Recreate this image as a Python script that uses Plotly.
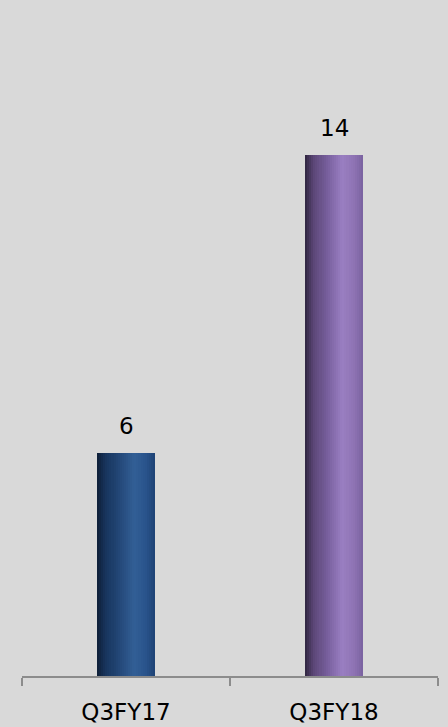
import plotly.graph_objects as go

categories = ["Q3FY17", "Q3FY18"]
values = [6, 14]
labels = ["6", "14"]

# gradient stops (position across bar width, colour) for each bar
blue_stops = [(0.0, (14, 30, 54)), (0.15, (23, 52, 92)), (0.4, (36, 73, 122)),
              (0.65, (50, 95, 150)), (0.85, (40, 82, 138)), (1.0, (30, 66, 116))]
purple_stops = [(0.0, (47, 37, 64)), (0.15, (91, 70, 118)), (0.4, (122, 97, 160)),
                (0.65, (154, 127, 194)), (0.85, (141, 114, 178)), (1.0, (122, 98, 160))]

FONT = "DejaVu Sans, sans-serif"


def interp(stops, t):
    for (p0, c0), (p1, c1) in zip(stops[:-1], stops[1:]):
        if p0 <= t <= p1:
            f = (t - p0) / (p1 - p0) if p1 > p0 else 0
            c = [round(a + (b - a) * f) for a, b in zip(c0, c1)]
            return "rgb(%d,%d,%d)" % tuple(c)
    return "rgb(%d,%d,%d)" % stops[-1][1]


bar_width = 0.28
n_strips = 28
strip = bar_width / n_strips

fig = go.Figure()
for i in range(n_strips):
    t = (i + 0.5) / n_strips
    fig.add_trace(go.Bar(
        x=categories, y=values,
        width=strip * 1.08, offset=-bar_width / 2 + i * strip,
        marker=dict(color=[interp(blue_stops, t), interp(purple_stops, t)], line=dict(width=0)),
        hoverinfo="skip", showlegend=False,
    ))

for c, v, lab in zip(categories, values, labels):
    fig.add_annotation(x=c, y=v, text=lab, showarrow=False, yshift=27, yanchor="middle",
                       font=dict(size=23, color="#000000", family=FONT))

fig.update_layout(
    width=448, height=727,
    margin=dict(l=22, r=10, t=81, b=51),
    paper_bgcolor="#d9d9d9", plot_bgcolor="#d9d9d9",
    barmode="overlay", bargap=0,
    font=dict(family=FONT, color="#000000"),
)
fig.update_xaxes(
    type="category", range=[-0.5, 1.5], tickson="boundaries", automargin=False,
    showline=True, linecolor="#8c8c8c", linewidth=2,
    ticks="outside", ticklen=8, tickwidth=2, tickcolor="#8c8c8c",
    tickfont=dict(size=23, color="#000000", family=FONT), ticklabelstandoff=14,
    showgrid=False, zeroline=False,
)
fig.update_yaxes(range=[0, 16], visible=False, showgrid=False, zeroline=False, automargin=False)

fig.write_html("out.html")
